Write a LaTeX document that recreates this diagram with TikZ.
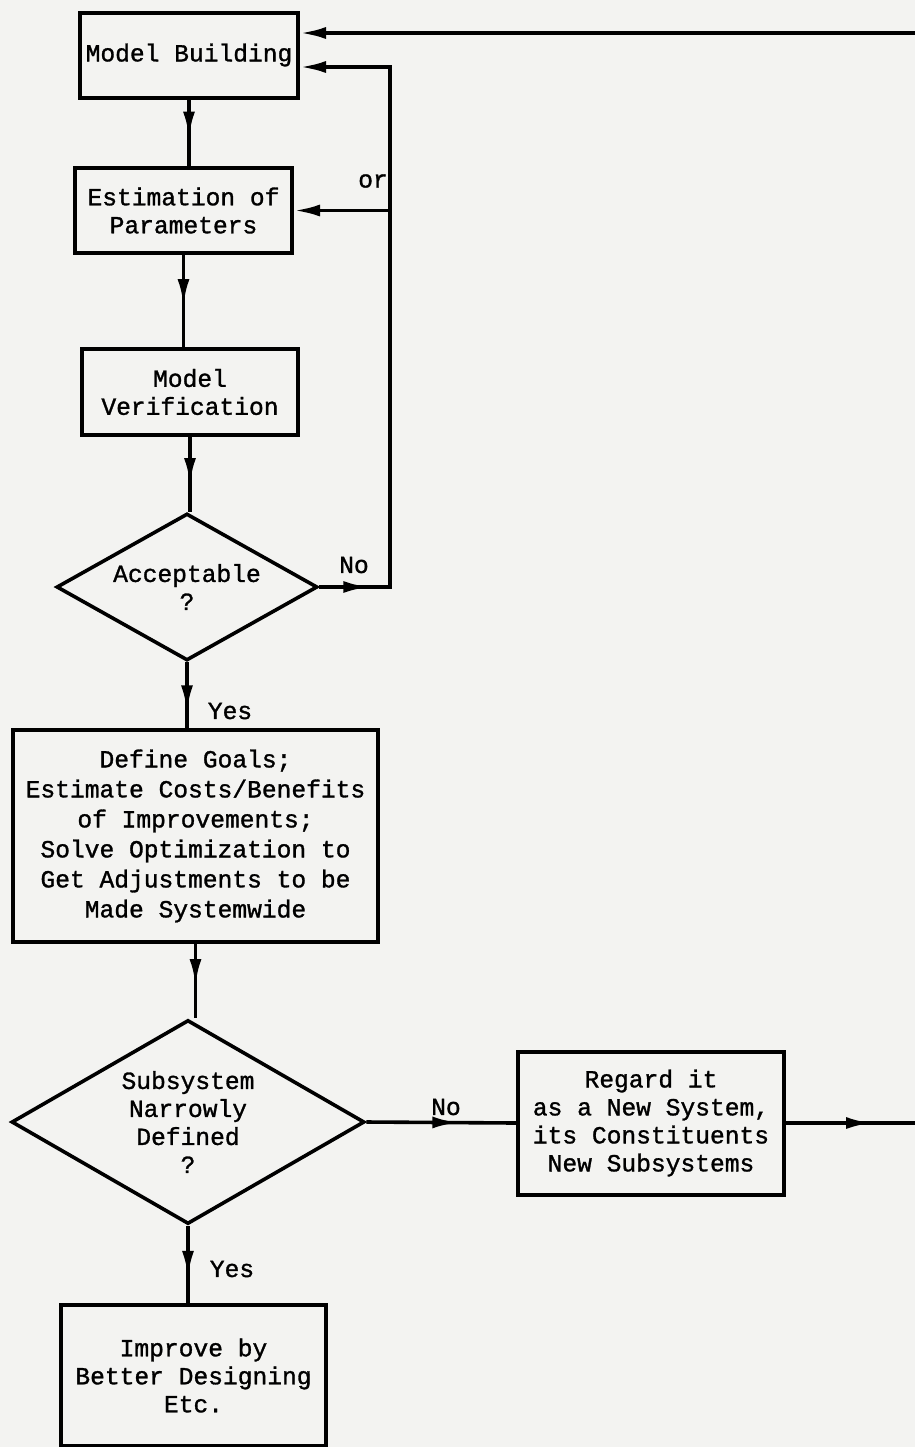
\documentclass[tikz,border=0pt]{standalone}
\usepackage{fontspec}
\setmonofont{Liberation Mono}[FakeBold=1.2]
\usetikzlibrary{arrows.meta,shapes.geometric,decorations.markings}
\definecolor{paper}{RGB}{243,243,241}
\tikzset{
  txt/.style={font=\ttfamily\fontsize{12.3}{14}\selectfont},
  box/.style={txt,draw,line width=2pt,inner sep=0pt,align=center},
  decision/.style={txt,diamond,draw,line width=1.8pt,inner sep=0pt,align=center},
  flow/.style={line width=1.8pt},
  tip/.style={-{Latex[length=13pt,width=6pt]}},
  midtip/.style={postaction=decorate,decoration={markings,
      mark=at position #1 with {\arrow{Latex[length=13pt,width=6pt]}}}}
}
\begin{document}
\begin{tikzpicture}[x=0.5pt,y=-0.5pt]
    \fill[paper] (0,0) rectangle (915,1447);
    \useasboundingbox (0,0) rectangle (915,1447);

    \coordinate (P1) at (189,55);
    \coordinate (P2) at (183.5,210.5);
    \coordinate (P3) at (190,392);
    \coordinate (P4) at (187,587);
    \coordinate (P5) at (195.5,836);
    \coordinate (P6) at (188,1122);
    \coordinate (P7) at (651,1123);
    \coordinate (P8) at (193.5,1375.5);

    \coordinate (loopTop) at (390,67);
    \coordinate (loopBot) at (390,587);
    \coordinate (feedIn) at (915,33);
    \coordinate (feedOut) at (915,1123);

    \node[box,minimum width=109pt,minimum height=42.5pt] (build) at (P1) {Model Building};
    \node[box,minimum width=108.5pt,minimum height=42.5pt] (estim) at (P2) {Estimation of\\Parameters};
    \node[box,minimum width=108pt,minimum height=43pt] (verif) at (P3) {Model\\Verification};
    \node[decision,aspect=1.78,minimum width=130.5pt,minimum height=73.5pt] (accept) at (P4) {Acceptable\\?};
    \node[box,minimum width=182.5pt,minimum height=106pt,
          font=\ttfamily\fontsize{12.3}{15}\selectfont] (goals) at (P5)
        {Define Goals;\\Estimate Costs/Benefits\\of Improvements;\\Solve Optimization to\\Get Adjustments to be\\Made Systemwide};
    \node[decision,aspect=1.73,minimum width=176.5pt,minimum height=102pt] (subsys) at (P6) {Subsystem\\Narrowly\\Defined\\?};
    \node[box,minimum width=133pt,minimum height=71.5pt] (regard) at (P7) {Regard it\\as a New System,\\its Constituents\\New Subsystems};
    \node[box,minimum width=132.5pt,minimum height=70.5pt] (improve) at (P8) {Improve by\\Better Designing\\Etc.};

    \node[txt] (lblOr) at (373,181) {or};
    \node[txt] (lblNoA) at (354,565) {No};
    \node[txt] (lblYesA) at (230,711) {Yes};
    \node[txt] (lblNoS) at (446,1107) {No};
    \node[txt] (lblYesS) at (232,1269) {Yes};

    % main column
    \draw[flow,midtip=19pt] (build.south) -- (build.south |- estim.north);
    \draw[flow,midtip=25pt] (estim.south) -- (estim.south |- verif.north);
    \draw[flow,midtip=23.5pt] (verif.south) -- (verif.south |- accept.north);
    \draw[flow,midtip=24.5pt] (accept.south) -- (accept.south |- goals.north);
    \draw[flow,midtip=20.5pt] (goals.south) -- (goals.south |- subsys.north);
    \draw[flow,midtip=25.5pt] (subsys.south) -- (subsys.south |- improve.north);

    % loop back
    \draw[flow,tip,midtip=25pt] (accept.east) -- (loopBot) -- (loopTop) -- (build.east |- loopTop);
    \draw[flow,tip] (estim.east -| loopTop) -- (estim.east);
    \draw[flow,tip] (feedIn) -- (build.east |- feedIn);

    % new system
    \draw[flow,midtip=46pt] (subsys.east) -- (regard.west);
    \draw[flow,midtip=43pt] (regard.east) -- (feedOut);
\end{tikzpicture}
\end{document}
